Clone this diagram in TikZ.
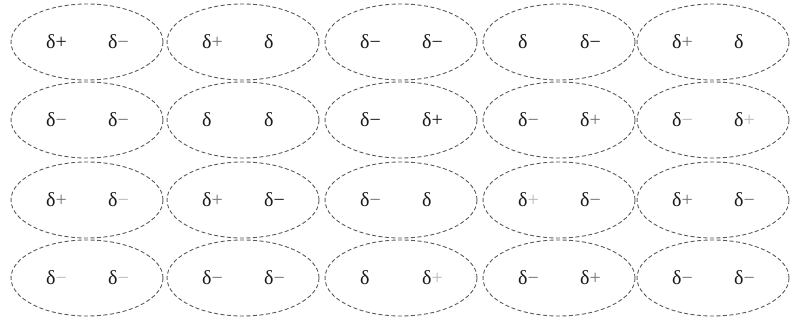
\documentclass[tikz,border=0pt]{standalone}
\usepackage{fontspec}
\setmainfont{Liberation Serif}
\usetikzlibrary{shapes.geometric}
\definecolor{faint}{gray}{0.72}
\definecolor{mid}{gray}{0.45}
\tikzset{
  cell/.style={ellipse, draw=black!65, line width=0.9pt, dash pattern=on 4pt off 2.5pt,
    minimum width=152pt, minimum height=76pt, inner sep=0pt},
  lab/.style={font=\fontsize{20}{22}\selectfont, text=black!90, inner sep=0pt, anchor=west}
}
\newcommand{\fs}[1]{\textcolor{faint}{#1}}
\newcommand{\ms}[1]{\textcolor{mid}{#1}}
\begin{document}
\begin{tikzpicture}[x=1pt,y=-1pt]
\useasboundingbox (0,0) rectangle (790,320);
\foreach \r/\y in {1/42,2/120,3/200,4/278}{
  \foreach \c/\x in {1/87,2/243,3/401,4/559,5/713}{
    \node[cell] (e\r\c) at (\x,\y) {};
    \coordinate (l\r\c) at (\x-41,\y);
    \coordinate (r\r\c) at (\x+21,\y);
  }
}
% row 1
\node[lab] (a11) at (l11) {δ+};        \node[lab] (b11) at (r11) {δ\ms{−}};
\node[lab] (a12) at (l12) {δ\ms{+}};   \node[lab] (b12) at (r12) {δ};
\node[lab] (a13) at (l13) {δ−};        \node[lab] (b13) at (r13) {δ−};
\node[lab] (a14) at (l14) {δ};         \node[lab] (b14) at (r14) {δ−};
\node[lab] (a15) at (l15) {δ\ms{+}};   \node[lab] (b15) at (r15) {δ};
% row 2
\node[lab] (a21) at (l21) {δ\ms{−}};   \node[lab] (b21) at (r21) {δ\ms{−}};
\node[lab] (a22) at (l22) {δ};         \node[lab] (b22) at (r22) {δ};
\node[lab] (a23) at (l23) {δ−};        \node[lab] (b23) at (r23) {δ+};
\node[lab] (a24) at (l24) {δ\ms{−}};   \node[lab] (b24) at (r24) {δ\ms{+}};
\node[lab] (a25) at (l25) {δ\fs{−}};   \node[lab] (b25) at (r25) {δ\fs{+}};
% row 3
\node[lab] (a31) at (l31) {δ\ms{+}};   \node[lab] (b31) at (r31) {δ\fs{−}};
\node[lab] (a32) at (l32) {δ\ms{+}};   \node[lab] (b32) at (r32) {δ−};
\node[lab] (a33) at (l33) {δ\ms{−}};   \node[lab] (b33) at (r33) {δ};
\node[lab] (a34) at (l34) {δ\fs{+}};   \node[lab] (b34) at (r34) {δ\ms{−}};
\node[lab] (a35) at (l35) {δ\ms{+}};   \node[lab] (b35) at (r35) {δ\ms{−}};
% row 4
\node[lab] (a41) at (l41) {δ\fs{−}};   \node[lab] (b41) at (r41) {δ\fs{−}};
\node[lab] (a42) at (l42) {δ\ms{−}};   \node[lab] (b42) at (r42) {δ\ms{−}};
\node[lab] (a43) at (l43) {δ};         \node[lab] (b43) at (r43) {δ\fs{+}};
\node[lab] (a44) at (l44) {δ\ms{−}};   \node[lab] (b44) at (r44) {δ\ms{+}};
\node[lab] (a45) at (l45) {δ\ms{−}};   \node[lab] (b45) at (r45) {δ\ms{−}};
\end{tikzpicture}
\end{document}
